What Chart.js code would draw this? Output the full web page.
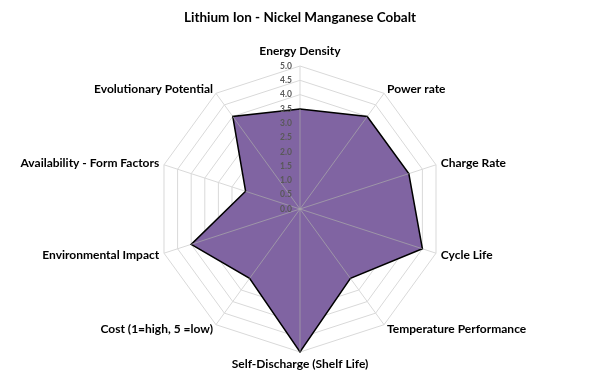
<!DOCTYPE html>
<html>
<head>
<meta charset="utf-8">
<script src="https://cdn.jsdelivr.net/npm/chart.js@4"></script>
<style>
  html, body { margin: 0; padding: 0; background: #fff; }
  #wrap { width: 600px; height: 392px; }
</style>
</head>
<body>
<div id="wrap"><canvas id="radarChart" width="600" height="392"></canvas></div>
<script>
const categories = [
    'Energy Density',
    'Power rate',
    'Charge Rate',
    'Cycle Life',
    'Temperature Performance',
    'Self-Discharge (Shelf Life)',
    'Cost (1=high, 5 =low)',
    'Environmental Impact',
    'Availability - Form Factors',
    'Evolutionary Potential',
];
const nmcValues = [3.5, 4.0, 4.0, 4.5, 3.0, 5.0, 3.0, 4.0, 2.0, 4.0];
const tickValues = [0, 0.5, 1, 1.5, 2, 2.5, 3, 3.5, 4, 4.5, 5];

// spokes over the fill, tick numbers left of the top spoke, and the
// category labels centred on their spoke ends (Excel style)
const overlay = {
    id: 'overlay',
    afterDatasetsDraw(chart) {
        const scale = chart.scales.r;
        const ctx = chart.ctx;
        ctx.save();
        ctx.strokeStyle = 'rgba(170,170,170,0.7)';
        ctx.lineWidth = 1;
        nmcValues.forEach((v, i) => {
            const p = scale.getPointPositionForValue(i, v);
            ctx.beginPath();
            ctx.moveTo(scale.xCenter, scale.yCenter);
            ctx.lineTo(p.x, p.y);
            ctx.stroke();
        });

        ctx.font = 'bold 8.5px Lato';
        ctx.fillStyle = '#595959';
        ctx.textAlign = 'right';
        ctx.textBaseline = 'middle';
        tickValues.forEach(v => {
            const d = scale.getDistanceFromCenterForValue(v);
            ctx.fillText(v.toFixed(1), scale.xCenter - 8, scale.yCenter - d);
        });

        ctx.font = 'bold 12px Lato';
        ctx.fillStyle = '#000';
        const n = categories.length;
        categories.forEach((label, i) => {
            if (i === 0) {
                const p = scale.getPointPosition(i, scale.drawingArea + 9);
                ctx.textAlign = 'center';
                ctx.textBaseline = 'bottom';
                ctx.fillText(label, p.x, p.y);
            } else if (i === n / 2) {
                const p = scale.getPointPosition(i, scale.drawingArea + 6);
                ctx.textAlign = 'center';
                ctx.textBaseline = 'top';
                ctx.fillText(label, p.x, p.y);
            } else {
                const p = scale.getPointPosition(i, scale.drawingArea + 5);
                ctx.textAlign = i < n / 2 ? 'left' : 'right';
                ctx.textBaseline = 'middle';
                ctx.fillText(label, p.x, p.y);
            }
        });
        ctx.restore();
    }
};

const ctx = document.getElementById('radarChart').getContext('2d');
new Chart(ctx, {
    type: 'radar',
    data: {
        labels: categories,
        datasets: [
            {
                label: 'Lithium Ion - Nickel Manganese Cobalt',
                data: nmcValues,
                backgroundColor: '#8064a2',
                borderColor: '#000000',
                borderWidth: 1.5,
                pointRadius: 0,
                fill: true,
            },
        ],
    },
    options: {
        responsive: false,
        animation: false,
        layout: { padding: { top: 4, bottom: 39, left: 0, right: 0 } },
        scales: {
            r: {
                min: 0,
                max: 5,
                ticks: { stepSize: 0.5, display: false },
                grid: { color: '#d9d9d9', lineWidth: 1 },
                angleLines: { color: '#d9d9d9' },
                pointLabels: { display: false },
            },
        },
        plugins: {
            legend: { display: false },
            tooltip: { enabled: false },
            title: {
                display: true,
                text: 'Lithium Ion - Nickel Manganese Cobalt',
                font: { family: 'Lato', size: 13.5, weight: 'bold' },
                color: '#000',
                padding: { top: 6, bottom: 40 },
            },
        },
    },
    plugins: [overlay],
});
</script>
</body>
</html>
